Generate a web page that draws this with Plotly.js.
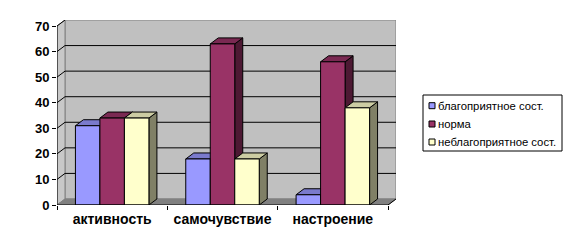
<!DOCTYPE html>
<html>
<head>
<meta charset="utf-8">
<script src="https://cdn.plot.ly/plotly-3.0.1.min.js"></script>
<style>html,body{margin:0;padding:0;background:#fff;}#chart{width:571px;height:248px;}</style>
</head>
<body>
<div id="chart"></div>
<script>
// ---- data ----
var categories = ['активность', 'самочувствие', 'настроение'];
var seriesNames = ['благоприятное сост.', 'норма', 'неблагоприятное сост.'];
var favorable = [31, 18, 4];
var normal = [34, 63, 56];
var unfavorable = [34, 18, 38];
var yTicks = [0, 10, 20, 30, 40, 50, 60, 70];

// ---- style ----
var seriesValues = [favorable, normal, unfavorable];
var frontColors = ['#9999FF', '#993366', '#FFFFCC'];
var topColors = ['#7A7ACC', '#7A2952', '#CCCCA3'];
var sideColors = ['#4D4D80', '#4D1933', '#808066'];
var YMAX = 70;
var DX = 0.0725;   // depth offset in category units
var DY = 2.35;     // depth offset in value units
var BARW = 0.222;  // bar width in category units
var nCat = categories.length;

var W = 571, H = 248;
var M = {l: 57, r: 175, t: 20, b: 43};
var plotW = W - M.l - M.r, plotH = H - M.t - M.b;
function pxX(px) { return (px - M.l) / plotW; }
function pxY(py) { return (H - M.b - py) / plotH; }

var traces = [];
function poly(xs, ys, fill, lineColor) {
  traces.push({
    type: 'scatter', mode: 'lines', x: xs.concat([xs[0]]), y: ys.concat([ys[0]]),
    fill: 'toself', fillcolor: fill, line: {color: lineColor || '#000', width: 1},
    hoverinfo: 'skip', showlegend: false, xaxis: 'x', yaxis: 'y'
  });
}

// bars, painter order: left to right
for (var i = 0; i < nCat; i++) {
  for (var s = 0; s < seriesValues.length; s++) {
    var v = seriesValues[s][i];
    var x0 = i + 0.5 - 1.5 * BARW + s * BARW, x1 = x0 + BARW;
    poly([x1, x1 + DX, x1 + DX, x1], [0, DY, v + DY, v], sideColors[s]);
    poly([x0, x1, x1 + DX, x0 + DX], [v, v, v + DY, v + DY], topColors[s]);
    poly([x0, x1, x1, x0], [0, 0, v, v], frontColors[s]);
  }
}

// walls, floor, gridlines
var shapes = [];
shapes.push({type: 'path', xref: 'x', yref: 'y', layer: 'below',
  path: 'M' + DX + ',' + DY + 'L' + (nCat + DX) + ',' + DY + 'L' + (nCat + DX) + ',' + (YMAX + DY) + 'L' + DX + ',' + (YMAX + DY) + 'Z',
  fillcolor: '#C0C0C0', line: {color: '#808080', width: 1}});
shapes.push({type: 'path', xref: 'x', yref: 'y', layer: 'below',
  path: 'M0,0L' + DX + ',' + DY + 'L' + DX + ',' + (YMAX + DY) + 'L0,' + YMAX + 'Z',
  fillcolor: '#C8C8C8', line: {color: '#808080', width: 1}});
shapes.push({type: 'path', xref: 'x', yref: 'y', layer: 'below',
  path: 'M0,0L' + nCat + ',0L' + (nCat + DX) + ',' + DY + 'L' + DX + ',' + DY + 'Z',
  fillcolor: '#808080', line: {color: '#808080', width: 1}});
yTicks.forEach(function (t) {
  if (t === 0) return;
  var p = 'M0,' + t + 'L' + DX + ',' + (t + DY);
  if (t < YMAX) p += 'L' + (nCat + DX) + ',' + (t + DY);
  shapes.push({type: 'path', xref: 'x', yref: 'y', layer: 'below', path: p,
    line: {color: '#000', width: 1}});
});
shapes.push({type: 'path', xref: 'x', yref: 'y', layer: 'above',
  path: 'M0,' + YMAX + 'L0,0L' + nCat + ',0L' + (nCat + DX) + ',' + DY,
  line: {color: '#000', width: 1}});

// legend
var legBox = {x0: 423, y0: 95, x1: 562, y1: 151};
shapes.push({type: 'rect', xref: 'paper', yref: 'paper',
  x0: pxX(legBox.x0), x1: pxX(legBox.x1), y0: pxY(legBox.y1), y1: pxY(legBox.y0),
  fillcolor: '#fff', line: {color: '#000', width: 1}});
var annotations = [];
var rowY = [105.7, 124, 142];
seriesNames.forEach(function (name, k) {
  shapes.push({type: 'rect', xref: 'paper', yref: 'paper',
    x0: pxX(429), x1: pxX(435), y0: pxY(rowY[k] + 3), y1: pxY(rowY[k] - 3),
    fillcolor: frontColors[k], line: {color: '#000', width: 1}});
  annotations.push({xref: 'paper', yref: 'paper', x: pxX(436), y: pxY(rowY[k]),
    xanchor: 'left', yanchor: 'middle', showarrow: false, text: name,
    font: {family: 'Liberation Sans, Arial, sans-serif', size: 11.3, color: '#000'}});
});

var layout = {
  width: W, height: H, margin: M,
  paper_bgcolor: '#fff', plot_bgcolor: '#fff', showlegend: false,
  font: {family: 'Liberation Sans, Arial, sans-serif', color: '#000'},
  xaxis: {range: [0, nCat + DX], tickvals: [0, 1, 2, 3], showticklabels: false,
    ticks: 'outside', ticklen: 4, tickcolor: '#000', tickwidth: 1,
    showgrid: false, zeroline: false, showline: false, fixedrange: true},
  xaxis2: {overlaying: 'x', anchor: 'y', side: 'bottom', range: [0, nCat + DX],
    tickvals: categories.map(function (c, k) { return k + 0.5; }), ticktext: categories,
    ticks: '', tickfont: {size: 14, weight: 'bold'}, ticklabelstandoff: 4,
    showgrid: false, zeroline: false, showline: false, fixedrange: true},
  yaxis: {range: [0, YMAX + DY], tickvals: yTicks, ticks: 'outside', ticklen: 4,
    tickcolor: '#000', tickwidth: 1, tickfont: {size: 13, weight: 'bold'},
    showgrid: false, zeroline: false, showline: false, fixedrange: true},
  shapes: shapes, annotations: annotations
};
traces.push({type: 'scatter', mode: 'markers', x: [null], y: [null], xaxis: 'x2', yaxis: 'y',
  hoverinfo: 'skip', showlegend: false});

Plotly.newPlot('chart', traces, layout, {staticPlot: true, displayModeBar: false});
</script>
</body>
</html>
